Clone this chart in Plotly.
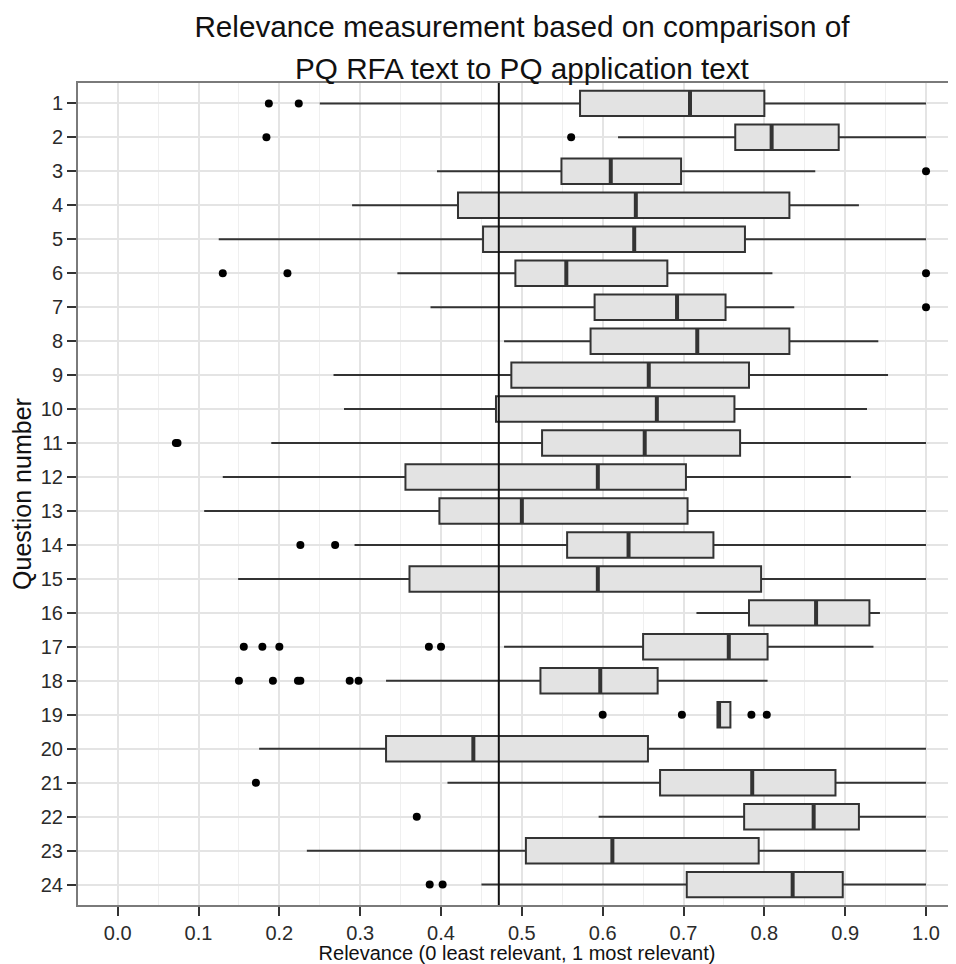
import plotly.graph_objects as go

# ---------------- data ----------------
QUESTIONS = list(range(1, 25))
TICK_LABELS = [str(q) for q in QUESTIONS]

LOWER_WHISKER = [0.250, 0.619, 0.395, 0.290, 0.125, 0.346, 0.387, 0.478, 0.267, 0.280, 0.190, 0.130,
                 0.107, 0.293, 0.149, 0.716, 0.478, 0.332, 0.742, 0.175, 0.408, 0.595, 0.234, 0.450]
Q1 = [0.572, 0.764, 0.549, 0.421, 0.452, 0.492, 0.590, 0.585, 0.487, 0.468, 0.525, 0.356,
      0.398, 0.556, 0.361, 0.781, 0.650, 0.523, 0.742, 0.332, 0.671, 0.775, 0.505, 0.704]
MEDIAN = [0.708, 0.809, 0.610, 0.641, 0.639, 0.555, 0.692, 0.717, 0.657, 0.667, 0.652, 0.594,
          0.500, 0.632, 0.594, 0.864, 0.756, 0.597, 0.744, 0.440, 0.785, 0.861, 0.612, 0.835]
Q3 = [0.800, 0.892, 0.697, 0.831, 0.776, 0.680, 0.752, 0.831, 0.781, 0.763, 0.770, 0.703,
      0.705, 0.737, 0.796, 0.930, 0.804, 0.668, 0.758, 0.656, 0.888, 0.917, 0.793, 0.897]
UPPER_WHISKER = [1.000, 1.000, 0.863, 0.917, 1.000, 0.810, 0.837, 0.941, 0.953, 0.927, 1.000, 0.907,
                 1.000, 1.000, 1.000, 0.943, 0.935, 0.804, 0.758, 1.000, 1.000, 1.000, 1.000, 1.000]

OUTLIER_QUESTION = [1, 1, 2, 2, 3, 6, 6, 6, 7, 11, 11, 14, 14,
                    17, 17, 17, 17, 17, 18, 18, 18, 18, 18, 18,
                    19, 19, 19, 19, 21, 22, 24, 24]
OUTLIER_VALUE = [0.187, 0.224, 0.184, 0.561, 1.000, 0.130, 0.210, 1.000, 1.000, 0.072, 0.074, 0.226, 0.269,
                 0.156, 0.179, 0.200, 0.385, 0.400, 0.150, 0.192, 0.223, 0.226, 0.287, 0.298,
                 0.600, 0.698, 0.784, 0.803, 0.171, 0.370, 0.386, 0.402]

MEAN_RELEVANCE = 0.4715

X_TICKS = [i / 10 for i in range(11)]

TITLE_LINE1 = "Relevance measurement based on comparison of"
TITLE_LINE2 = "PQ RFA text to PQ application text"
X_TITLE = "Relevance (0 least relevant, 1 most relevant)"
Y_TITLE = "Question number"

# ---------------- style ----------------
FONT = "Liberation Sans, Arial, sans-serif"
BOX_WIDTH = 0.75
EDGE = "#333333"
FILL = "#E3E3E3"
GRID = "#E4E4E4"
GRID_MINOR = "#EFEFEF"
BORDER = "#7A7A7A"

# the page body adds an 8px offset, so the figure is 8px smaller than the window
W, H = 948, 956
ML, MT, MB, MR = 70, 75, 59, 0

fig = go.Figure()

fig.add_trace(go.Box(
    orientation="h",
    y=QUESTIONS,
    q1=Q1, median=MEDIAN, q3=Q3,
    lowerfence=LOWER_WHISKER, upperfence=UPPER_WHISKER,
    width=BOX_WIDTH,
    whiskerwidth=0,
    fillcolor=FILL,
    line=dict(color=EDGE, width=2),
    boxpoints=False,
    showlegend=False,
    hoverinfo="skip",
))

# thicker median bars (ggplot style)
med_x, med_y = [], []
for q, m in zip(QUESTIONS, MEDIAN):
    med_x += [m, m, None]
    med_y += [q - BOX_WIDTH / 2, q + BOX_WIDTH / 2, None]
fig.add_trace(go.Scatter(
    x=med_x, y=med_y, mode="lines",
    line=dict(color=EDGE, width=4),
    showlegend=False, hoverinfo="skip",
))

fig.add_trace(go.Scatter(
    x=OUTLIER_VALUE, y=OUTLIER_QUESTION, mode="markers",
    marker=dict(color="black", size=8),
    showlegend=False, hoverinfo="skip",
))

fig.add_vline(x=MEAN_RELEVANCE, line=dict(color="#111111", width=2), layer="above")

plot_h = H - MT - MB
plot_w = W - ML - MR
TITLE_CX = 514  # figure px, centre of the (uncropped) panel

fig.add_annotation(
    text=TITLE_LINE2, xref="paper", yref="paper",
    x=(TITLE_CX - ML) / plot_w, y=(H - MB - 60) / plot_h,
    xanchor="center", yanchor="middle", showarrow=False,
    font=dict(family=FONT, size=29.7, color="#111111"),
)

fig.update_layout(
    width=W, height=H,
    margin=dict(l=ML, r=MR, t=MT, b=MB, pad=0),
    paper_bgcolor="white", plot_bgcolor="white",
    font=dict(family=FONT, color="#2b2b2b"),
    title=dict(
        text=TITLE_LINE1, xref="paper", x=(TITLE_CX - ML) / plot_w, xanchor="center",
        yref="container", y=1 - 19 / H, yanchor="middle",
        font=dict(family=FONT, size=29.7, color="#111111"),
    ),
    xaxis=dict(
        range=[-0.0491, 1.0371],
        tickvals=X_TICKS, tickformat=".1f",
        ticks="outside", ticklen=9, tickwidth=2, tickcolor=EDGE,
        tickfont=dict(family=FONT, size=20, color="#2b2b2b"),
        showgrid=True, gridcolor=GRID, gridwidth=1.5,
        minor=dict(dtick=0.05, tick0=0, showgrid=True, gridcolor=GRID_MINOR, gridwidth=1.2, ticks=""),
        showline=True, linecolor=BORDER, linewidth=2, mirror=True,
        zeroline=False,
        title=dict(text=X_TITLE, font=dict(family=FONT, size=20, color="#111111"), standoff=4),
    ),
    yaxis=dict(
        range=[24.6, 0.4],
        tickvals=QUESTIONS, ticktext=TICK_LABELS,
        ticks="outside", ticklen=9, tickwidth=2, tickcolor=EDGE,
        tickfont=dict(family=FONT, size=20, color="#2b2b2b"),
        showgrid=True, gridcolor=GRID, gridwidth=1.5,
        showline=True, linecolor=BORDER, linewidth=2,
        zeroline=False,
        title=dict(text=Y_TITLE, font=dict(family=FONT, size=25, color="#111111"), standoff=6),
    ),
)

fig.write_html("out.html")
